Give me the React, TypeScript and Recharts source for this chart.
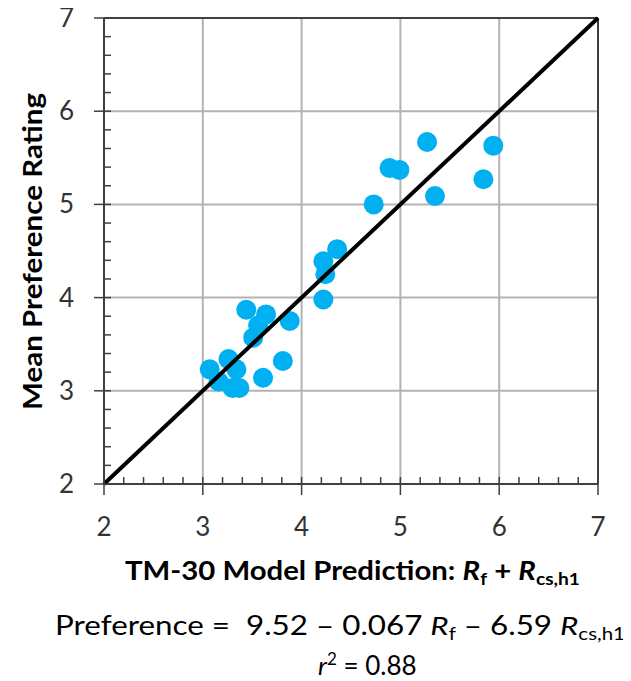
import React from "react";
import { ScatterChart, Scatter, XAxis, YAxis, ReferenceLine } from "recharts";

// ---- data ----
const predictionValues = [
  5.94, 5.27, 4.89, 4.99, 5.84, 5.35, 4.73, 4.36, 4.22, 4.24, 4.22,
  3.44, 3.64, 3.88, 3.56, 3.51, 3.81, 3.26, 3.34, 3.07, 3.16, 3.3, 3.37, 3.61,
];
const ratingValues = [
  5.63, 5.67, 5.39, 5.37, 5.27, 5.09, 5.0, 4.52, 4.39, 4.25, 3.98,
  3.87, 3.82, 3.75, 3.7, 3.57, 3.32, 3.34, 3.23, 3.23, 3.1, 3.03, 3.03, 3.14,
];
const axisTicks = [
  2, 2.2, 2.4, 2.6, 2.8, 3, 3.2, 3.4, 3.6, 3.8, 4, 4.2, 4.4, 4.6, 4.8, 5,
  5.2, 5.4, 5.6, 5.8, 6, 6.2, 6.4, 6.6, 6.8, 7,
];
const gridValues = [3, 4, 5, 6];
const identityLine = [
  { x: 2, y: 2 },
  { x: 7, y: 7 },
];

const points = predictionValues.map((x, i) => ({ x, y: ratingValues[i] }));

const AXIS = "#404040";
const GRID = "#b3b3b3";
const FONT = "Lato, 'Open Sans', sans-serif";

const isMajor = (v: number) => Math.abs(v - Math.round(v)) < 1e-6;

const XTick = (props: any) => {
  const { x, y, payload } = props;
  const v = payload.value;
  const major = isMajor(v);
  return (
    <g>
      <line x1={x} x2={x} y1={y - 7} y2={major ? y + 11 : y} stroke={AXIS} strokeWidth={1.5} />
      {major && (
        <text x={x} y={y + 52} textAnchor="middle" fontSize={26} fontFamily={FONT} fill="#333">
          {Math.round(v)}
        </text>
      )}
    </g>
  );
};

const YTick = (props: any) => {
  const { x, y, payload } = props;
  const v = payload.value;
  const major = isMajor(v);
  return (
    <g>
      <line x1={major ? x - 10 : x} x2={x + 7} y1={y} y2={y} stroke={AXIS} strokeWidth={1.5} />
      {major && (
        <text x={x - 30} y={y + 9} textAnchor="end" fontSize={26} fontFamily={FONT} fill="#333">
          {Math.round(v)}
        </text>
      )}
    </g>
  );
};

const Dot = (props: any) => {
  const { cx, cy } = props;
  if (cx == null || cy == null) return <g />;
  return <circle cx={cx} cy={cy} r={10} fill="#00B0F0" />;
};

const NoDot = () => <g />;

export default function App() {
  return (
    <div style={{ position: "relative", width: 631, height: 681, margin: "-8px 0 0 -8px" }}>
      <ScatterChart
        width={631}
        height={681}
        margin={{ top: 18, right: 33, bottom: 137, left: 0 }}
      >
        <XAxis
          type="number"
          dataKey="x"
          domain={[2, 7]}
          ticks={axisTicks}
          interval={0}
          tick={<XTick />}
          tickLine={false}
          tickSize={0}
          tickMargin={0}
          height={60}
          axisLine={{ stroke: AXIS, strokeWidth: 2 }}
        />
        <YAxis
          type="number"
          dataKey="y"
          domain={[2, 7]}
          ticks={axisTicks}
          interval={0}
          tick={<YTick />}
          tickLine={false}
          tickSize={0}
          tickMargin={0}
          width={104}
          axisLine={{ stroke: AXIS, strokeWidth: 2 }}
        />
        {gridValues.map((v) => (
          <ReferenceLine key={"gx" + v} x={v} stroke={GRID} strokeWidth={2} />
        ))}
        {gridValues.map((v) => (
          <ReferenceLine key={"gy" + v} y={v} stroke={GRID} strokeWidth={2} />
        ))}
        <ReferenceLine x={7} stroke={AXIS} strokeWidth={2} />
        <ReferenceLine y={7} stroke={AXIS} strokeWidth={2} />
        <Scatter data={points} shape={<Dot />} isAnimationActive={false} />
        <Scatter
          data={identityLine}
          line={{ stroke: "#000", strokeWidth: 4 }}
          shape={<NoDot />}
          isAnimationActive={false}
        />
      </ScatterChart>
      <svg
        width={631}
        height={681}
        style={{ position: "absolute", left: 0, top: 0, pointerEvents: "none" }}
      >
        <text
          transform="translate(41.5, 251.5) rotate(-90)"
          textAnchor="middle"
          fontSize={26}
          fontWeight="bold"
          fontFamily={FONT}
          fill="#000"
          textLength={317}
          lengthAdjust="spacingAndGlyphs"
        >
          Mean Preference Rating
        </text>
        <text
          x={125}
          y={580}
          fontSize={26}
          fontWeight="bold"
          fontFamily={FONT}
          fill="#000"
          textLength={455}
          lengthAdjust="spacingAndGlyphs"
        >
          TM-30 Model Prediction:{" "}
          <tspan fontStyle="italic">R</tspan>
          <tspan fontSize={17} dy={5}>f</tspan>
          <tspan dy={-5}> + </tspan>
          <tspan fontStyle="italic">R</tspan>
          <tspan fontSize={17} dy={5}>cs,h1</tspan>
        </text>
        <text
          x={55}
          y={635}
          fontSize={26}
          fontFamily={FONT}
          fill="#000"
          textLength={570}
          lengthAdjust="spacingAndGlyphs"
        >
          {"Preference =\u00a0 9.52 – 0.067 "}
          <tspan fontStyle="italic">R</tspan>
          <tspan fontSize={17} dy={5}>f</tspan>
          <tspan dy={-5}>{" – 6.59 "}</tspan>
          <tspan fontStyle="italic">R</tspan>
          <tspan fontSize={17} dy={5}>cs,h1</tspan>
        </text>
        <text x={318} y={675} fontFamily={FONT} fill="#000">
          <tspan fontSize={26} fontStyle="italic">r</tspan>
          <tspan fontSize={17} dy={-10}>2</tspan>
          <tspan fontSize={26} dy={10}>{" = 0.88"}</tspan>
        </text>
      </svg>
    </div>
  );
}
